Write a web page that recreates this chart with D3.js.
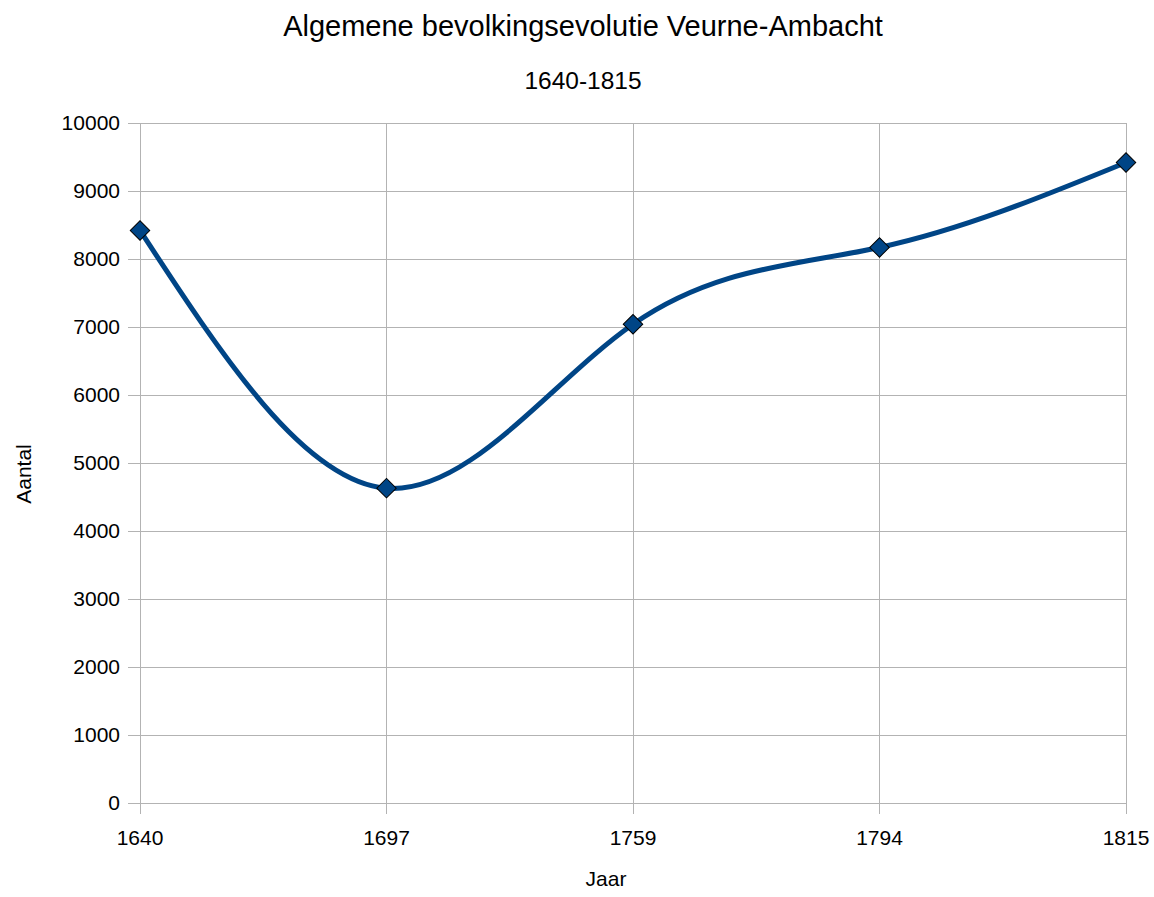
<!DOCTYPE html>
<html>
<head>
<meta charset="utf-8">
<script src="https://cdn.jsdelivr.net/npm/d3@7"></script>
<style>
  body { margin: 0; background: #fff; }
  svg text { font-family: "Liberation Sans", Arial, sans-serif; fill: #000; }
</style>
</head>
<body>
<svg width="1154" height="897"></svg>
<script>
let years = ["1640", "1697", "1759", "1794", "1815"];
let inwoners = [8420, 4630, 7040, 8170, 9420];
let yTicks = [0, 1000, 2000, 3000, 4000, 5000, 6000, 7000, 8000, 9000, 10000];

let svg = d3.select("svg"),
    plotLeft = 140, plotRight = 1126, plotTop = 123, plotBottom = 803;

let x = d3.scalePoint().domain(years).range([plotLeft, plotRight]);
let y = d3.scaleLinear().domain([0, 10000]).range([plotBottom, plotTop]);

// grid
svg.append("g").selectAll("line")
  .data(yTicks)
  .enter().append("line")
  .attr("x1", plotLeft - 12).attr("x2", plotRight)
  .attr("y1", d => y(d)).attr("y2", d => y(d))
  .attr("stroke", "#b3b3b3").attr("stroke-width", 1)
  .attr("shape-rendering", "crispEdges");

svg.append("g").selectAll("line")
  .data(years)
  .enter().append("line")
  .attr("x1", d => x(d)).attr("x2", d => x(d))
  .attr("y1", plotTop).attr("y2", plotBottom + 11)
  .attr("stroke", "#b3b3b3").attr("stroke-width", 1)
  .attr("shape-rendering", "crispEdges");

// tick labels
svg.append("g").selectAll("text")
  .data(yTicks)
  .enter().append("text")
  .attr("x", plotLeft - 20)
  .attr("y", d => y(d))
  .attr("dy", "0.35em")
  .attr("text-anchor", "end")
  .style("font-size", "21px")
  .text(d => d);

svg.append("g").selectAll("text")
  .data(years)
  .enter().append("text")
  .attr("x", d => x(d))
  .attr("y", plotBottom + 42)
  .attr("text-anchor", "middle")
  .style("font-size", "21px")
  .text(d => d);

// line
let line = d3.line()
  .x((d, i) => x(years[i]))
  .y(d => y(d))
  .curve(d3.curveNatural);

svg.append("path")
  .datum(inwoners)
  .attr("d", line)
  .attr("fill", "none")
  .attr("stroke", "#004586")
  .attr("stroke-width", 5);

svg.append("g").selectAll("path")
  .data(inwoners)
  .enter().append("path")
  .attr("d", d3.symbol().type(d3.symbolSquare).size(190))
  .attr("transform", (d, i) => `translate(${x(years[i])},${y(d)}) rotate(45)`)
  .attr("fill", "#004586")
  .attr("stroke", "#000")
  .attr("stroke-width", 1);

// titles
svg.append("text")
  .attr("x", 583).attr("y", 36)
  .attr("text-anchor", "middle")
  .style("font-size", "29px")
  .text("Algemene bevolkingsevolutie Veurne-Ambacht");

svg.append("text")
  .attr("x", 583).attr("y", 89)
  .attr("text-anchor", "middle")
  .style("font-size", "24.5px")
  .text("1640-1815");

svg.append("text")
  .attr("transform", "translate(31,474) rotate(-90)")
  .attr("text-anchor", "middle")
  .style("font-size", "21px")
  .text("Aantal");

svg.append("text")
  .attr("x", 606).attr("y", 886)
  .attr("text-anchor", "middle")
  .style("font-size", "21px")
  .text("Jaar");
</script>
</body>
</html>
